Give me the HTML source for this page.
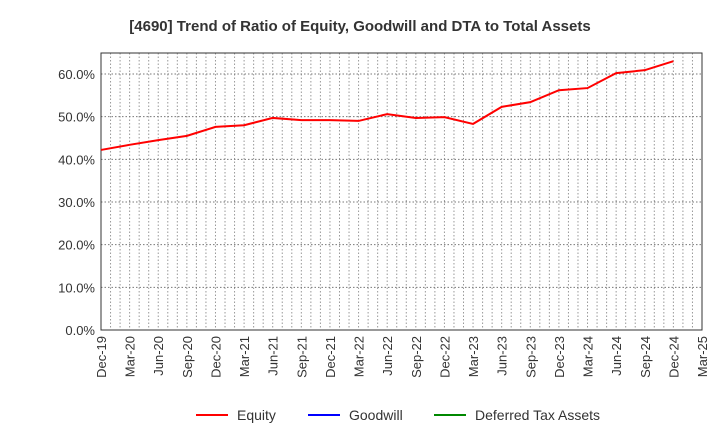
<!DOCTYPE html>
<html><head><meta charset="utf-8"><style>
body{margin:0;background:#fff;font-family:"Liberation Sans",sans-serif}
</style></head><body>
<svg id="c" width="720" height="440" xmlns="http://www.w3.org/2000/svg">
<text x="360" y="31" text-anchor="middle" font-size="15" font-weight="bold" fill="#333">[4690]  Trend of Ratio of Equity, Goodwill and DTA to Total Assets</text>
<g id="grid"></g><g id="axes"></g><g id="series"></g>
<g>
<line x1="196" y1="415" x2="228" y2="415" stroke="#f00" stroke-width="2"/><text x="237" y="420" font-size="14" fill="#333">Equity</text>
<line x1="308" y1="415" x2="340" y2="415" stroke="#00f" stroke-width="2"/><text x="349" y="420" font-size="14" fill="#333">Goodwill</text>
<line x1="434" y1="415" x2="466" y2="415" stroke="#080" stroke-width="2"/><text x="475" y="420" font-size="14" fill="#333">Deferred Tax Assets</text>
</g>
</svg>
<script>
const xLabels=["Dec-19","Mar-20","Jun-20","Sep-20","Dec-20","Mar-21","Jun-21","Sep-21","Dec-21","Mar-22","Jun-22","Sep-22","Dec-22","Mar-23","Jun-23","Sep-23","Dec-23","Mar-24","Jun-24","Sep-24","Dec-24","Mar-25"];
const yTicks=[0,10,20,30,40,50,60];
const equity=[42.2,43.4,44.5,45.5,47.6,48.0,49.7,49.2,49.2,49.0,50.6,49.7,49.9,48.3,52.3,53.4,56.2,56.7,60.2,60.9,63.0];
const L=101,R=702,T=53,B=330,NS="http://www.w3.org/2000/svg";
const months=(xLabels.length-1)*3;
const x=i=>L+(R-L)*i/(xLabels.length-1);
const y=v=>B-(B-74)*v/60;
function mk(t,a,p){const e=document.createElementNS(NS,t);for(const k in a)e.setAttribute(k,a[k]);p.appendChild(e);return e;}
const g=document.getElementById('grid'),ax=document.getElementById('axes'),s=document.getElementById('series');
for(let m=1;m<months;m++){const xx=L+(R-L)*m/months;
const l=mk('line',{x1:xx,x2:xx,y1:T,y2:B,stroke:'#999','stroke-dasharray':'1.5,2','stroke-width':1},g);

}
yTicks.forEach(v=>{const l=mk('line',{x1:L,x2:R,y1:y(v),y2:y(v),stroke:'#777','stroke-dasharray':'1.5,2'},g);


const t=mk('text',{x:L-6,y:y(v)+5,'text-anchor':'end','font-size':13,fill:'#333'},ax);t.textContent=v.toFixed(1)+'%';

});
const f=mk('rect',{x:L,y:T,width:R-L,height:B-T,fill:'none',stroke:'#333'},ax);


xLabels.forEach((lb,i)=>{const t=mk('text',{transform:`translate(${x(i)+5},${B+6}) rotate(-90)`,'text-anchor':'end','font-size':13,fill:'#333'},ax);t.textContent=lb;

});
const p=mk('polyline',{points:equity.map((v,i)=>x(i)+','+y(v)).join(' '),fill:'none',stroke:'#f00','stroke-width':2},s);


</script>
</body></html>
